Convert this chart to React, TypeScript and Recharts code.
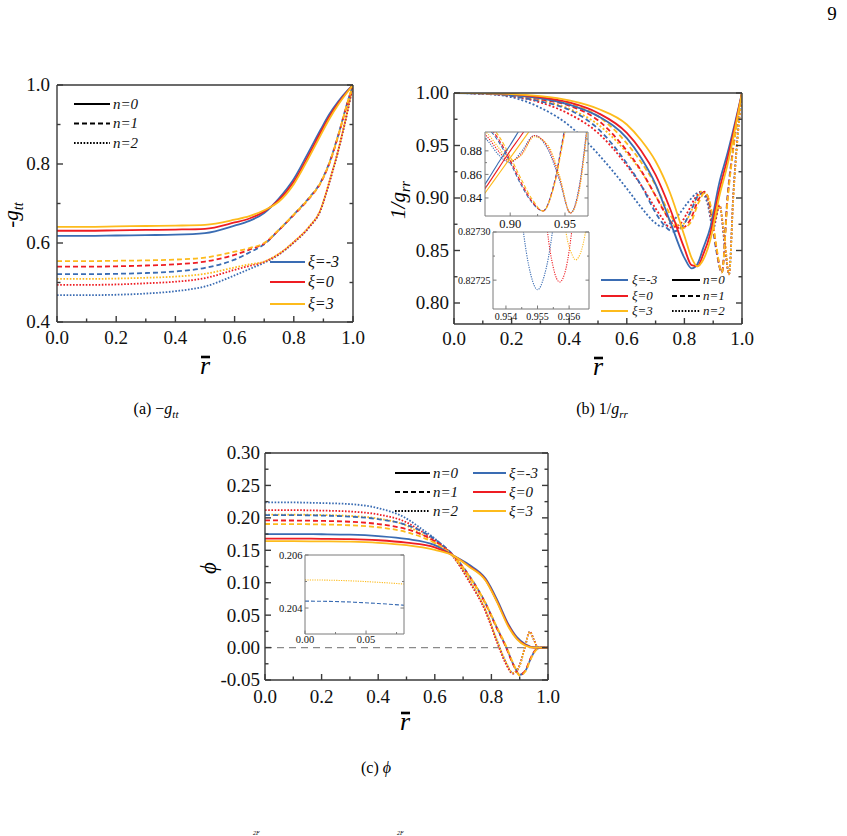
import React from 'react';
import { LineChart, Line, XAxis, YAxis, ReferenceLine } from 'recharts';

const SERIF = "'Liberation Serif', 'Times New Roman', Times, serif";
const BLUE = '#3a6cb3';
const RED = '#ee1d23';
const YELLOW = '#fdbb1c';
const XI_COLORS = [BLUE, RED, YELLOW];
const XI_LABELS = ['ξ=-3', 'ξ=0', 'ξ=3'];
const N_LABELS = ['n=0', 'n=1', 'n=2'];

// ---------- (a) -g_tt ----------
const gttX = [0, 0.1, 0.2, 0.3, 0.4, 0.5, 0.6, 0.65, 0.7, 0.75, 0.8, 0.85, 0.89, 0.92, 0.95, 0.98, 1.0];
const gttN0Xm3 = [0.618, 0.618, 0.619, 0.62, 0.621, 0.625, 0.644, 0.656, 0.676, 0.713, 0.762, 0.83, 0.886, 0.926, 0.958, 0.985, 1.0];
const gttN0X0 = [0.631, 0.631, 0.632, 0.633, 0.634, 0.636, 0.652, 0.662, 0.68, 0.709, 0.755, 0.822, 0.879, 0.92, 0.954, 0.983, 1.0];
const gttN0Xp3 = [0.641, 0.641, 0.642, 0.643, 0.644, 0.646, 0.659, 0.668, 0.683, 0.705, 0.749, 0.815, 0.872, 0.914, 0.95, 0.981, 1.0];
const gttN1Xm3 = [0.521, 0.521, 0.522, 0.524, 0.528, 0.537, 0.558, 0.576, 0.597, 0.633, 0.672, 0.713, 0.753, 0.803, 0.873, 0.953, 1.0];
const gttN1X0 = [0.54, 0.54, 0.541, 0.543, 0.546, 0.553, 0.57, 0.583, 0.599, 0.633, 0.671, 0.711, 0.751, 0.801, 0.871, 0.951, 1.0];
const gttN1Xp3 = [0.554, 0.554, 0.555, 0.556, 0.558, 0.563, 0.578, 0.587, 0.6, 0.634, 0.672, 0.712, 0.752, 0.802, 0.872, 0.952, 1.0];
const gttN2Xm3 = [0.468, 0.468, 0.469, 0.472, 0.478, 0.49, 0.518, 0.534, 0.55, 0.571, 0.601, 0.638, 0.682, 0.753, 0.833, 0.928, 1.0];
const gttN2X0 = [0.494, 0.494, 0.495, 0.498, 0.502, 0.511, 0.532, 0.542, 0.552, 0.572, 0.602, 0.639, 0.683, 0.754, 0.834, 0.929, 1.0];
const gttN2Xp3 = [0.509, 0.509, 0.51, 0.512, 0.515, 0.522, 0.538, 0.546, 0.553, 0.573, 0.603, 0.64, 0.684, 0.755, 0.835, 0.93, 1.0];

// ---------- (b) 1/g_rr ----------
const grrX0 = [0, 0.1, 0.2, 0.3, 0.4, 0.5, 0.6, 0.65, 0.7, 0.75, 0.8, 0.825, 0.845, 0.865, 0.89, 0.92, 0.95, 1.0];
const grrN0Xm3 = [1.0, 0.9997, 0.998, 0.995, 0.989, 0.978, 0.957, 0.938, 0.913, 0.878, 0.843, 0.833, 0.837, 0.852, 0.872, 0.913, 0.943, 1.0];
const grrN0X0 = [1.0, 0.9998, 0.999, 0.996, 0.991, 0.981, 0.962, 0.945, 0.922, 0.89, 0.852, 0.836, 0.835, 0.846, 0.866, 0.906, 0.938, 1.0];
const grrN0Xp3 = [1.0, 0.9998, 0.999, 0.997, 0.993, 0.985, 0.97, 0.955, 0.935, 0.905, 0.864, 0.843, 0.835, 0.841, 0.86, 0.9, 0.932, 1.0];
const grrX1 = [0, 0.1, 0.2, 0.3, 0.4, 0.5, 0.6, 0.65, 0.7, 0.73, 0.76, 0.79, 0.82, 0.85, 0.87, 0.89, 0.91, 0.93, 0.95, 0.97, 1.0];
const grrN1Xm3 = [1.0, 0.9995, 0.997, 0.992, 0.984, 0.966, 0.933, 0.912, 0.886, 0.874, 0.868, 0.872, 0.886, 0.903, 0.905, 0.889, 0.851, 0.829, 0.903, 0.949, 1.0];
const grrN1X0 = [1.0, 0.9996, 0.998, 0.994, 0.988, 0.974, 0.945, 0.926, 0.902, 0.887, 0.875, 0.871, 0.879, 0.899, 0.906, 0.892, 0.854, 0.829, 0.9, 0.948, 1.0];
const grrN1Xp3 = [1.0, 0.9997, 0.998, 0.995, 0.99, 0.978, 0.952, 0.934, 0.912, 0.895, 0.88, 0.871, 0.876, 0.896, 0.905, 0.894, 0.856, 0.829, 0.898, 0.947, 1.0];
const grrX2 = [0, 0.1, 0.2, 0.3, 0.4, 0.5, 0.6, 0.65, 0.7, 0.72, 0.75, 0.78, 0.81, 0.84, 0.86, 0.88, 0.9, 0.922, 0.94, 0.955, 0.97, 0.985, 1.0];
const grrN2Xm3 = [1.0, 0.9992, 0.996, 0.986, 0.969, 0.942, 0.909, 0.891, 0.876, 0.873, 0.876, 0.884, 0.895, 0.904, 0.906, 0.895, 0.871, 0.893, 0.855, 0.8273, 0.905, 0.96, 1.0];
const grrN2X0 = [1.0, 0.9995, 0.997, 0.991, 0.98, 0.962, 0.931, 0.912, 0.89, 0.882, 0.872, 0.874, 0.886, 0.901, 0.906, 0.899, 0.873, 0.893, 0.858, 0.8273, 0.903, 0.959, 1.0];
const grrN2Xp3 = [1.0, 0.9996, 0.998, 0.993, 0.985, 0.97, 0.943, 0.925, 0.902, 0.893, 0.878, 0.872, 0.88, 0.897, 0.906, 0.902, 0.876, 0.892, 0.861, 0.8273, 0.901, 0.958, 1.0];

// inset 1 of (b)
const in1X0 = [0.87, 0.88, 0.89, 0.9, 0.91, 0.92];
const in1N0Xm3 = [0.842, 0.856, 0.871, 0.885, 0.9, 0.914];
const in1N0X0 = [0.839, 0.852, 0.866, 0.88, 0.893, 0.907];
const in1N0Xp3 = [0.835, 0.848, 0.861, 0.874, 0.887, 0.9];
const in1X1 = [0.87, 0.88, 0.89, 0.9, 0.91, 0.92, 0.93, 0.94, 0.95, 0.96];
const in1N1Xm3 = [0.906, 0.899, 0.887, 0.87, 0.851, 0.836, 0.829, 0.852, 0.9, 0.94];
const in1N1X0 = [0.907, 0.901, 0.889, 0.872, 0.853, 0.837, 0.829, 0.851, 0.898, 0.94];
const in1N1Xp3 = [0.908, 0.903, 0.892, 0.875, 0.856, 0.839, 0.829, 0.85, 0.896, 0.94];
const in1X2 = [0.87, 0.88, 0.89, 0.9, 0.91, 0.922, 0.935, 0.945, 0.955, 0.963, 0.97];
const in1N2Xm3 = [0.898, 0.888, 0.876, 0.87, 0.879, 0.893, 0.88, 0.855, 0.8273, 0.85, 0.9];
const in1N2X0 = [0.9, 0.891, 0.879, 0.871, 0.877, 0.893, 0.882, 0.857, 0.8273, 0.848, 0.898];
const in1N2Xp3 = [0.902, 0.894, 0.882, 0.872, 0.876, 0.892, 0.884, 0.859, 0.8273, 0.846, 0.896];

// inset 2 of (b), n=2 minima
const in2XBlue = [0.9542, 0.9545, 0.9548, 0.955, 0.9552, 0.9555, 0.9558];
const in2YBlue = [0.82743, 0.827315, 0.827254, 0.82724, 0.827253, 0.827308, 0.82742];
const in2XRed = [0.955, 0.9553, 0.9555, 0.9557, 0.9559, 0.9561, 0.9564];
const in2YRed = [0.82744, 0.827305, 0.827263, 0.827248, 0.827262, 0.827305, 0.82741];
const in2XYellow = [0.9556, 0.9559, 0.9561, 0.9562, 0.9564, 0.9566, 0.9569];
const in2YYellow = [0.8274, 0.8273, 0.827276, 0.827271, 0.827282, 0.827318, 0.82742];

// ---------- (c) phi ----------
const phiX0 = [0, 0.1, 0.2, 0.3, 0.4, 0.5, 0.6, 0.66, 0.72, 0.78, 0.82, 0.86, 0.89, 0.92, 0.95, 1.0];
const phiN0Xm3 = [0.175, 0.175, 0.1747, 0.174, 0.1718, 0.1675, 0.158, 0.143, 0.128, 0.106, 0.074, 0.036, 0.016, 0.005, 0.0005, 0.0];
const phiN0X0 = [0.168, 0.168, 0.1677, 0.1672, 0.1655, 0.1618, 0.1545, 0.143, 0.126, 0.104, 0.071, 0.034, 0.014, 0.004, 0.0, 0.0];
const phiN0Xp3 = [0.164, 0.164, 0.1637, 0.1632, 0.1615, 0.1578, 0.1505, 0.143, 0.125, 0.103, 0.07, 0.032, 0.013, 0.003, 0.0, 0.0];
const phiX1 = [0, 0.1, 0.2, 0.3, 0.4, 0.5, 0.55, 0.6, 0.66, 0.72, 0.78, 0.82, 0.85, 0.88, 0.9, 0.92, 0.94, 0.96, 0.98, 1.0];
const phiN1Xm3 = [0.2043, 0.2042, 0.2035, 0.202, 0.198, 0.189, 0.18, 0.167, 0.145, 0.112, 0.068, 0.03, 0.003, -0.028, -0.042, -0.036, -0.016, -0.002, 0.0, 0.0];
const phiN1X0 = [0.196, 0.1959, 0.1953, 0.194, 0.1905, 0.1825, 0.175, 0.164, 0.144, 0.111, 0.067, 0.029, 0.002, -0.029, -0.042, -0.035, -0.015, -0.002, 0.0, 0.0];
const phiN1Xp3 = [0.1905, 0.1904, 0.1898, 0.1886, 0.1855, 0.178, 0.171, 0.161, 0.143, 0.111, 0.068, 0.031, 0.004, -0.027, -0.043, -0.037, -0.017, -0.003, 0.0, 0.0];
const phiX2 = [0, 0.1, 0.2, 0.3, 0.4, 0.5, 0.55, 0.6, 0.66, 0.72, 0.78, 0.82, 0.85, 0.876, 0.9, 0.918, 0.936, 0.95, 0.965, 1.0];
const phiN2Xm3 = [0.224, 0.2238, 0.2228, 0.2212, 0.215, 0.199, 0.184, 0.168, 0.143, 0.104, 0.056, 0.01, -0.022, -0.04, -0.027, 0.0, 0.0245, 0.012, 0.0, 0.0];
const phiN2X0 = [0.212, 0.2119, 0.2112, 0.2098, 0.2052, 0.193, 0.18, 0.165, 0.143, 0.103, 0.055, 0.008, -0.024, -0.04, -0.027, 0.0, 0.0245, 0.012, 0.0, 0.0];
const phiN2Xp3 = [0.2051, 0.205, 0.2044, 0.203, 0.199, 0.188, 0.176, 0.162, 0.143, 0.106, 0.058, 0.011, -0.021, -0.039, -0.028, 0.0, 0.024, 0.012, 0.0, 0.0];

// inset of (c)
const incX = [0, 0.02, 0.04, 0.06, 0.08, 0.09];
const incN2Xp3 = [0.20506, 0.20505, 0.20502, 0.20497, 0.20491, 0.20488];
const incN1Xm3 = [0.20426, 0.20425, 0.20422, 0.20417, 0.20411, 0.20408];

// tick values
const unitMajors = [0, 0.2, 0.4, 0.6, 0.8, 1.0];
const unitMinors = [0.1, 0.3, 0.5, 0.7, 0.9];
const gttYMajors = [0.4, 0.6, 0.8, 1.0];
const gttYMinors = [0.5, 0.7, 0.9];
const grrYMajors = [0.8, 0.85, 0.9, 0.95, 1.0];
const grrYMinors = [0.825, 0.875, 0.925, 0.975];
const phiYMajors = [-0.05, 0, 0.05, 0.1, 0.15, 0.2, 0.25, 0.3];
const phiYMinors = [-0.025, 0.025, 0.075, 0.125, 0.175, 0.225, 0.275];
const in1XMajors = [0.9, 0.95];
const in1XMinors = [0.925];
const in1YMajors = [0.84, 0.86, 0.88];
const in1YMinors = [0.85, 0.87, 0.89];
const in2XMajors = [0.954, 0.955, 0.956];
const in2XMinors = [0.9545, 0.9555];
const in2YMajors = [0.82725, 0.8273];
const in2YMinors = [0.827275];
const incXMajors = [0, 0.05];
const incXMinors = [0.025, 0.075];
const incYMajors = [0.204, 0.206];
const incYMinors = [0.205];

type Pt = { x: number; y: number };
type Series = { n: number; xi: number; data: Pt[] };
type AxisSpec = { domain: [number, number]; majors: number[]; minors: number[]; fmt: (v: number) => string };
type TickStyle = { font: number; major: number; minor: number; xGap: number; yGap: number; color: string; width: number };

const pts = (xs: number[], ys: number[]): Pt[] => xs.map((x, i) => ({ x, y: ys[i] }));

const fam = (n: number, xs: number[], m3: number[], z: number[], p3: number[]): Series[] => [
  { n, xi: 0, data: pts(xs, m3) },
  { n, xi: 1, data: pts(xs, z) },
  { n, xi: 2, data: pts(xs, p3) },
];

const gttSeries = [
  ...fam(2, gttX, gttN2Xm3, gttN2X0, gttN2Xp3),
  ...fam(1, gttX, gttN1Xm3, gttN1X0, gttN1Xp3),
  ...fam(0, gttX, gttN0Xm3, gttN0X0, gttN0Xp3),
];
const grrSeries = [
  ...fam(2, grrX2, grrN2Xm3, grrN2X0, grrN2Xp3),
  ...fam(1, grrX1, grrN1Xm3, grrN1X0, grrN1Xp3),
  ...fam(0, grrX0, grrN0Xm3, grrN0X0, grrN0Xp3),
];
const in1Series = [
  ...fam(2, in1X2, in1N2Xm3, in1N2X0, in1N2Xp3),
  ...fam(1, in1X1, in1N1Xm3, in1N1X0, in1N1Xp3),
  ...fam(0, in1X0, in1N0Xm3, in1N0X0, in1N0Xp3),
];
const in2Series: Series[] = [
  { n: 2, xi: 0, data: pts(in2XBlue, in2YBlue) },
  { n: 2, xi: 1, data: pts(in2XRed, in2YRed) },
  { n: 2, xi: 2, data: pts(in2XYellow, in2YYellow) },
];
const phiSeries = [
  ...fam(2, phiX2, phiN2Xm3, phiN2X0, phiN2Xp3),
  ...fam(1, phiX1, phiN1Xm3, phiN1X0, phiN1Xp3),
  ...fam(0, phiX0, phiN0Xm3, phiN0X0, phiN0Xp3),
];
const incSeries: Series[] = [
  { n: 2, xi: 2, data: pts(incX, incN2Xp3) },
  { n: 1, xi: 0, data: pts(incX, incN1Xm3) },
];

const mkTick = (side: string, ax: AxisSpec, st: TickStyle, label: boolean) => (p: any) => {
  const v = Number(p.payload?.value);
  const major = ax.majors.some((m) => Math.abs(m - v) < 1e-10);
  const len = major ? st.major : st.minor;
  const x = p.x;
  const y = p.y;
  let x2 = x;
  let y2 = y;
  if (side === 'bottom') y2 = y - len;
  else if (side === 'top') y2 = y + len;
  else if (side === 'left') x2 = x + len;
  else x2 = x - len;
  return (
    <g>
      <line x1={x} y1={y} x2={x2} y2={y2} stroke={st.color} strokeWidth={st.width} />
      {label && major && side === 'bottom' && (
        <text x={x} y={y + st.xGap} textAnchor="middle" fontSize={st.font} fontFamily={SERIF} fill="#111">
          {ax.fmt(v)}
        </text>
      )}
      {label && major && side === 'left' && (
        <text x={x - st.yGap} y={y} dy="0.34em" textAnchor="end" fontSize={st.font} fontFamily={SERIF} fill="#111">
          {ax.fmt(v)}
        </text>
      )}
    </g>
  );
};

interface PanelProps {
  left: number; top: number; w: number; h: number;
  ml: number; mt: number; mr: number; mb: number;
  xa: AxisSpec; ya: AxisSpec; st: TickStyle;
  series: Series[]; lw: number; dashes: (string | undefined)[];
  bg?: boolean; children?: React.ReactNode;
}

const Panel = ({ left, top, w, h, ml, mt, mr, mb, xa, ya, st, series, lw, dashes, bg, children }: PanelProps) => {
  const axisLine = { stroke: st.color, strokeWidth: st.width };
  const xt = [...xa.majors, ...xa.minors].sort((a, b) => a - b);
  const yt = [...ya.majors, ...ya.minors].sort((a, b) => a - b);
  return (
    <>
      {bg && (
        <div style={{ position: 'absolute', left: left + ml, top: top + mt, width: w - ml - mr, height: h - mt - mb, background: '#fff' }} />
      )}
      <div style={{ position: 'absolute', left, top }}>
        <LineChart width={w} height={h} margin={{ top: 0, right: 0, bottom: 0, left: 0 }}>
          <XAxis xAxisId={0} dataKey="x" type="number" domain={xa.domain} allowDataOverflow ticks={xt} interval={0}
            height={mb} tickSize={0} tickMargin={0} tickLine={false} axisLine={axisLine} tick={mkTick('bottom', xa, st, true)} />
          <XAxis xAxisId="t" orientation="top" type="number" domain={xa.domain} allowDataOverflow ticks={xt} interval={0}
            height={mt} tickSize={0} tickMargin={0} tickLine={false} axisLine={axisLine} tick={mkTick('top', xa, st, false)} />
          <YAxis yAxisId={0} type="number" domain={ya.domain} allowDataOverflow ticks={yt} interval={0}
            width={ml} tickSize={0} tickMargin={0} tickLine={false} axisLine={axisLine} tick={mkTick('left', ya, st, true)} />
          <YAxis yAxisId="r" orientation="right" type="number" domain={ya.domain} allowDataOverflow ticks={yt} interval={0}
            width={mr} tickSize={0} tickMargin={0} tickLine={false} axisLine={axisLine} tick={mkTick('right', ya, st, false)} />
          {children}
          {series.map((s, i) => (
            <Line key={i} xAxisId={0} yAxisId={0} data={s.data} dataKey="y" type="monotone"
              stroke={XI_COLORS[s.xi]} strokeWidth={lw} strokeDasharray={dashes[s.n]}
              dot={false} activeDot={false} isAnimationActive={false} />
          ))}
        </LineChart>
      </div>
    </>
  );
};

const f1 = (v: number) => v.toFixed(1);
const f2 = (v: number) => v.toFixed(2);
const mainStyle: TickStyle = { font: 19, major: 6, minor: 3.5, xGap: 22, yGap: 6, color: '#3a3a3a', width: 1.4 };
const insetStyle: TickStyle = { font: 12.5, major: 3.5, minor: 2, xGap: 12, yGap: 3, color: '#7a7a7a', width: 1 };

const Legend = ({ x1, x2, tx, ys, font, kind }: { x1: number; x2: number; tx: number; ys: number[]; font: number; kind: 'n' | 'xi' }) => (
  <g>
    {ys.map((y, i) => (
      <g key={i}>
        <line x1={x1} x2={x2} y1={y} y2={y} strokeWidth={2}
          stroke={kind === 'n' ? '#000' : XI_COLORS[i]}
          strokeDasharray={kind === 'n' ? [undefined, '5 3', '1.6 1.6'][i] : undefined} />
        <text x={tx} y={y + font * 0.3} fontSize={font} fontStyle="italic" fontFamily={SERIF} fill="#111">
          {kind === 'n' ? N_LABELS[i] : XI_LABELS[i]}
        </text>
      </g>
    ))}
  </g>
);

const RBar = ({ cx, barY, base }: { cx: number; barY: number; base: number }) => (
  <g>
    <line x1={cx - 4} x2={cx + 5} y1={barY} y2={barY} stroke="#000" strokeWidth={2.6} />
    <text x={cx} y={base} textAnchor="middle" fontSize={26} fontStyle="italic" fontFamily={SERIF}>r</text>
  </g>
);

export default function App() {
  const mainDash = [undefined, '5 3', '1.6 1.6'];
  const grrDash = [undefined, '5 3', '2 2'];
  const insetDash = [undefined, '4 2', '1.2 1.2'];
  return (
    <div style={{ position: 'absolute', left: 0, top: 0, width: 847, height: 836, overflow: 'hidden', background: '#fff' }}>
      <Panel left={0} top={60} w={380} h={310} ml={57} mt={25} mr={27} mb={48}
        xa={{ domain: [0, 1], majors: unitMajors, minors: unitMinors, fmt: f1 }}
        ya={{ domain: [0.4, 1.0], majors: gttYMajors, minors: gttYMinors, fmt: f1 }}
        st={{ ...mainStyle, xGap: 22, yGap: 7 }} series={gttSeries} lw={1.8} dashes={mainDash} />

      <Panel left={400} top={60} w={420} h={300} ml={54} mt={33} mr={78} mb={36}
        xa={{ domain: [0, 1], majors: unitMajors, minors: unitMinors, fmt: f1 }}
        ya={{ domain: [0.78, 1.0], majors: grrYMajors, minors: grrYMinors, fmt: f2 }}
        st={{ ...mainStyle, xGap: 21, yGap: 5 }} series={grrSeries} lw={1.8} dashes={grrDash} />

      <Panel left={450} top={120} w={145} h={115} ml={35} mt={12} mr={7} mb={19} bg
        xa={{ domain: [0.877, 0.971], majors: in1XMajors, minors: in1XMinors, fmt: f2 }}
        ya={{ domain: [0.8247, 0.896], majors: in1YMajors, minors: in1YMinors, fmt: f2 }}
        st={insetStyle} series={in1Series} lw={1.1} dashes={insetDash} />

      <Panel left={450} top={222} w={145} h={100} ml={43} mt={10} mr={6} mb={13} bg
        xa={{ domain: [0.95359, 0.95663], majors: in2XMajors, minors: in2XMinors, fmt: (v) => v.toFixed(3) }}
        ya={{ domain: [0.82722, 0.8273], majors: in2YMajors, minors: in2YMinors, fmt: (v) => v.toFixed(5) }}
        st={{ ...insetStyle, font: 10, xGap: 10.5, yGap: 2.5 }} series={in2Series} lw={1.1} dashes={insetDash} />

      <Panel left={200} top={430} w={380} h={290} ml={65} mt={23} mr={32} mb={40}
        xa={{ domain: [0, 1], majors: unitMajors, minors: unitMinors, fmt: f1 }}
        ya={{ domain: [-0.05, 0.3], majors: phiYMajors, minors: phiYMinors, fmt: f2 }}
        st={{ ...mainStyle, xGap: 23, yGap: 5 }} series={phiSeries} lw={1.8} dashes={mainDash}>
        <ReferenceLine y={0} stroke="#8a8a8a" strokeWidth={1.2} strokeDasharray="7 5" />
      </Panel>

      <Panel left={260} top={545} w={150} h={105} ml={45} mt={10} mr={6} mb={16} bg
        xa={{ domain: [0, 0.0811], majors: incXMajors, minors: incXMinors, fmt: f2 }}
        ya={{ domain: [0.20302, 0.206], majors: incYMajors, minors: incYMinors, fmt: (v) => v.toFixed(3) }}
        st={{ ...insetStyle, font: 10.5, xGap: 9, yGap: 2.5 }} series={incSeries} lw={1.1} dashes={insetDash} />

      <svg width={847} height={836} style={{ position: 'absolute', left: 0, top: 0, pointerEvents: 'none' }} fontFamily={SERIF}>
        <text x={832} y={20} fontSize={19} textAnchor="middle">9</text>

        {/* (a) */}
        <Legend x1={74} x2={110} tx={113} ys={[104, 123.5, 143]} font={15} kind="n" />
        <Legend x1={270} x2={305} tx={308} ys={[262, 282, 304]} font={16} kind="xi" />
        <text transform="translate(18,215) rotate(-90)" textAnchor="middle" fontSize={21} fontStyle="italic">
          -g<tspan fontSize={14} dy={5}>tt</tspan>
        </text>
        <RBar cx={205} barY={357} base={374} />
        <text x={156} y={414} fontSize={16} textAnchor="middle">
          (a) −<tspan fontStyle="italic">g</tspan><tspan fontSize={11} dy={4} fontStyle="italic">tt</tspan>
        </text>

        {/* (b) */}
        <Legend x1={601} x2={628} tx={632} ys={[280, 296, 311]} font={13} kind="xi" />
        <Legend x1={672} x2={700} tx={703} ys={[280, 296, 311]} font={13} kind="n" />
        <text transform="translate(405,200) rotate(-90)" textAnchor="middle" fontSize={21} fontStyle="italic">
          1/g<tspan fontSize={14} dy={5}>rr</tspan>
        </text>
        <RBar cx={598} barY={358} base={375} />
        <text x={602} y={414} fontSize={16} textAnchor="middle">
          (b) 1/<tspan fontStyle="italic">g</tspan><tspan fontSize={11} dy={4} fontStyle="italic">rr</tspan>
        </text>

        {/* (c) */}
        <Legend x1={395} x2={430} tx={433} ys={[473, 492, 511]} font={15} kind="n" />
        <Legend x1={473} x2={506} tx={509} ys={[473, 492, 511]} font={15} kind="xi" />
        <text transform="translate(216,568) rotate(-90)" textAnchor="middle" fontSize={23} fontStyle="italic">ϕ</text>
        <RBar cx={405} barY={713} base={730} />
        <text x={376} y={773} fontSize={16} textAnchor="middle">
          (c) <tspan fontStyle="italic">ϕ</tspan>
        </text>

        <text x={253} y={835} fontSize={6} fontStyle="italic">2F</text>
        <text x={397} y={835} fontSize={6} fontStyle="italic">2F</text>
      </svg>
    </div>
  );
}
